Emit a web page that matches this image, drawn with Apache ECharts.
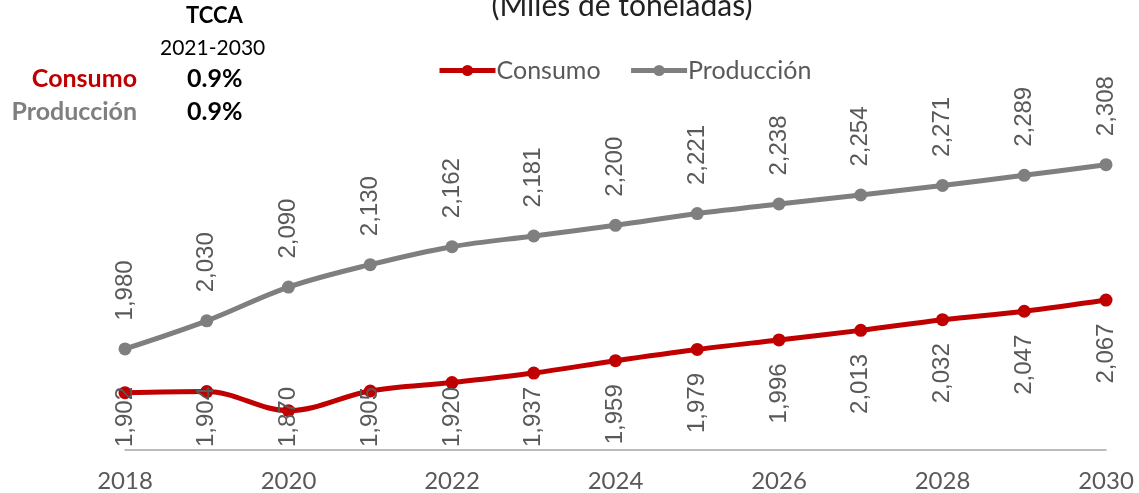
<!DOCTYPE html>
<html>
<head>
<meta charset="utf-8">
<script src="https://cdn.jsdelivr.net/npm/echarts@6/dist/echarts.min.js"></script>
<style>
  html, body { margin: 0; padding: 0; background: #fff; }
  #line-wrap { width: 1139px; height: 493px; }
</style>
</head>
<body>
<div id="line-wrap"></div>
<script>
  const years = ['2018', '2019', '2020', '2021', '2022', '2023', '2024', '2025', '2026', '2027', '2028', '2029', '2030']
  const consumo = [1902, 1904, 1870, 1905, 1920, 1937, 1959, 1979, 1996, 2013, 2032, 2047, 2067]
  const produccion = [1980, 2030, 2090, 2130, 2162, 2181, 2200, 2221, 2238, 2254, 2271, 2289, 2308]
  const tcca = { consumo: '0.9%', produccion: '0.9%' }

  const RED = '#C00000'
  const GREY = '#7F7F7F'
  const TEXT = '#595959'

  const mychart = echarts.init(document.getElementById('line-wrap'))

  const fmt = (p) => p.value.toLocaleString('en-US')

  const options = {
    animation: false,
    title: {
      text: '(Miles de toneladas)',
      left: 617,
      textAlign: 'center',
      top: -14,
      textStyle: { fontFamily: 'Lato', fontWeight: 'normal', fontSize: 30, color: '#222' }
    },
    legend: {
      top: 53,
      left: 432,
      itemWidth: 56,
      itemHeight: 14,
      itemGap: 28,
      lineStyle: { width: 5 },
      textStyle: { fontFamily: 'Lato', fontSize: 25, color: TEXT, padding: [0, 0, 0, -4] },
      data: ['Consumo', 'Producción']
    },
    grid: {
      left: 125,
      right: 33,
      top: 113,
      bottom: 41
    },
    xAxis: {
      type: 'category',
      boundaryGap: false,
      data: years,
      axisLine: { lineStyle: { color: '#A6A6A6', width: 1.5 } },
      axisTick: { show: false },
      axisLabel: {
        interval: 1,
        margin: 19,
        fontFamily: 'Lato',
        fontSize: 24,
        color: TEXT
      }
    },
    yAxis: {
      type: 'value',
      min: 1800,
      max: 2400,
      show: false,
      splitLine: { show: false }
    },
    graphic: [
      { type: 'text', left: 186, top: 5, style: { text: 'TCCA', fontFamily: 'Lato', fontWeight: 'bold', fontSize: 22, fill: '#000' } },
      { type: 'text', left: 160, top: 38, style: { text: '2021-2030', fontFamily: 'Lato', fontSize: 21, fill: '#000' } },
      { type: 'text', right: 1139 - 137, top: 66, style: { text: 'Consumo', fontFamily: 'Lato', fontWeight: 'bold', fontSize: 25, fill: RED } },
      { type: 'text', left: 187, top: 66, style: { text: tcca.consumo, fontFamily: 'Lato', fontWeight: 'bold', fontSize: 25, fill: '#000' } },
      { type: 'text', right: 1139 - 137, top: 99, style: { text: 'Producción', fontFamily: 'Lato', fontWeight: 'bold', fontSize: 25, fill: GREY } },
      { type: 'text', left: 187, top: 99, style: { text: tcca.produccion, fontFamily: 'Lato', fontWeight: 'bold', fontSize: 25, fill: '#000' } }
    ],
    series: [
      {
        name: 'Consumo',
        type: 'line',
        data: consumo,
        smooth: 0.35,
        symbol: 'circle',
        symbolSize: 13,
        itemStyle: { color: RED },
        lineStyle: { color: RED, width: 5 },
        label: {
          show: true,
          position: 'bottom',
          distance: 17,
          rotate: 90,
          align: 'right',
          verticalAlign: 'middle',
          formatter: fmt,
          fontFamily: 'Liberation Sans',
          fontSize: 24,
          color: TEXT
        },
        labelLayout: function (params) {
          // keep labels inside the plot, like Excel does
          const r = params.labelRect
          const over = r.y + r.height - 447
          return over > 0 ? { dx: over } : {}
        }
      },
      {
        name: 'Producción',
        type: 'line',
        data: produccion,
        smooth: 0.35,
        symbol: 'circle',
        symbolSize: 13,
        itemStyle: { color: GREY },
        lineStyle: { color: GREY, width: 5 },
        label: {
          show: true,
          position: 'top',
          distance: 22,
          rotate: 90,
          align: 'left',
          verticalAlign: 'middle',
          formatter: fmt,
          fontFamily: 'Liberation Sans',
          fontSize: 24,
          color: TEXT
        }
      }
    ]
  }

  mychart.setOption(options)
  window.addEventListener('resize', function () {
    mychart.resize()
  })
</script>
</body>
</html>
